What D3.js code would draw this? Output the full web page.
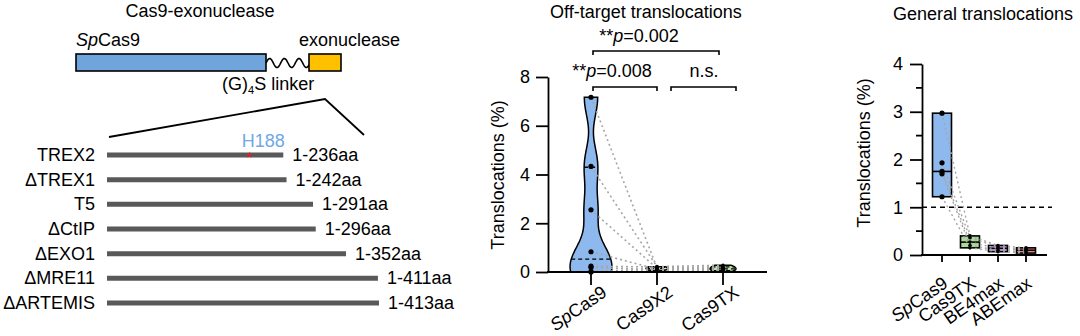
<!DOCTYPE html>
<html>
<head>
<meta charset="utf-8">
<script src="https://cdn.jsdelivr.net/npm/d3@7"></script>
<style>
  body { margin: 0; background: #fff; }
  text { font-family: "Liberation Sans", Arial, sans-serif; fill: #000; }
</style>
</head>
<body>
<svg id="fig" width="1080" height="336"></svg>
<script>
// ---- data ----
// panel a: truncated exonuclease domains
const domainNames = ["TREX2", "\u0394TREX1", "T5", "\u0394CtIP", "\u0394EXO1", "\u0394MRE11", "\u0394ARTEMIS"];
const domainLengths = [236, 242, 291, 296, 352, 411, 413];
const mutationSite = 188; // H188 in TREX2

// panel b: off-target translocations (%), paired samples
const offGroups = ["SpCas9", "Cas9X2", "Cas9TX"];
const offSpCas9 = [7.17, 4.33, 2.55, 0.83, 0.24, 0.18, 0.02, 0.0];
const offCas9X2 = [0.17, 0.22, 0.15, 0.12, 0.20, 0.10, 0.05, 0.14];
const offCas9TX = [0.20, 0.28, 0.10, 0.15, 0.12, 0.05, 0.02, 0.22];
const offQuartiles = [[0.0, 0.53, 4.3], [0.07, 0.14, 0.19], [0.05, 0.13, 0.21]];
const offTicks = [0, 2, 4, 6, 8];

// panel c: general translocations (%)
const genGroups = ["SpCas9", "Cas9TX", "BE4max", "ABEmax"];
const genSpCas9 = [2.97, 1.93, 1.75, 1.70, 1.22];
const genCas9TX = [0.40, 0.36, 0.27, 0.20, 0.15];
const genBE4max = [0.20, 0.17, 0.14, 0.10, 0.07];
const genABEmax = [0.15, 0.12, 0.10, 0.07, 0.04];
const genTicks = [0, 1, 2, 3, 4];
const genMinorTicks = [0.5, 1.5, 2.5, 3.5];
const genThreshold = 1;

const svg = d3.select("#fig");

// italic "Sp" prefix helper
function spLabel(sel, name) {
  if (name.startsWith("Sp")) {
    sel.append("tspan").style("font-style", "italic").text("Sp");
    sel.append("tspan").text(name.slice(2));
  } else {
    sel.text(name);
  }
}

// ================= Panel A: construct diagram =================
const pa = svg.append("g");

pa.append("text").attr("x", 200).attr("y", 17).attr("text-anchor", "middle")
  .attr("font-size", "18px").text("Cas9-exonuclease");

pa.append("text").attr("x", 76).attr("y", 46).attr("font-size", "18px")
  .call(s => spLabel(s, "SpCas9"));
pa.append("text").attr("x", 299).attr("y", 46).attr("font-size", "18px").text("exonuclease");

pa.append("rect").attr("x", 76).attr("y", 54).attr("width", 190).attr("height", 17)
  .attr("fill", "#6fa5dc").attr("stroke", "#000").attr("stroke-width", 1.6);

// wavy linker
const wave = d3.range(0, 44.5, 0.5).map(t => [266 + t, 63 - 4.5 * Math.sin(t / 44 * 3 * 2 * Math.PI)]);
pa.append("path").attr("d", d3.line()(wave)).attr("fill", "none").attr("stroke", "#000").attr("stroke-width", 1.6);

pa.append("rect").attr("x", 309).attr("y", 54).attr("width", 32).attr("height", 17)
  .attr("fill", "#ffc000").attr("stroke", "#000").attr("stroke-width", 1.6);

const linkTxt = pa.append("text").attr("x", 222).attr("y", 90).attr("font-size", "18px");
linkTxt.append("tspan").text("(G)");
linkTxt.append("tspan").attr("font-size", "11px").attr("dy", 4).text("4");
linkTxt.append("tspan").attr("dy", -4).text("S linker");

// zoom lines
pa.append("path").attr("d", "M109,137 L325,99 L364,135")
  .attr("fill", "none").attr("stroke", "#000").attr("stroke-width", 1.8);

const xAa = d3.scaleLinear().domain([-90, 413]).range([107, 379]);
const yRow = d3.scalePoint().domain(domainNames).range([155, 303]);

domainNames.forEach((name, i) => {
  const y = yRow(name);
  pa.append("line").attr("x1", xAa(-90)).attr("x2", xAa(domainLengths[i]))
    .attr("y1", y).attr("y2", y).attr("stroke", "#595959").attr("stroke-width", 5);
  pa.append("text").attr("x", 95).attr("y", y + 6).attr("text-anchor", "end")
    .attr("font-size", "18px").text(name);
  pa.append("text").attr("x", xAa(domainLengths[i]) + 9).attr("y", y + 6)
    .attr("font-size", "18px").text("1-" + domainLengths[i] + "aa");
});

// H188 mark
const hx = xAa(mutationSite) - 8;
pa.append("text").attr("x", hx + 14).attr("y", yRow("TREX2") - 8).attr("text-anchor", "middle")
  .attr("font-size", "18px").style("fill", "#6fa8e8").text("H" + mutationSite);
pa.append("path").attr("d", d3.symbol(d3.symbolStar, 14)())
  .attr("transform", `translate(${hx},${yRow("TREX2")})`).attr("fill", "#e0201b");

// ================= Panel B: off-target violins =================
const pb = svg.append("g");
const yOff = d3.scaleLinear().domain([0, 8]).range([272, 77]);
const xOff = d3.scalePoint().domain(offGroups).range([591, 723]);
const offData = [offSpCas9, offCas9X2, offCas9TX];
const offFill = ["#8db9ef", "#cfe8b4", "#b9e2a6"];
const offBw = [0.7, 0.06, 0.07];
const offHalf = [21, 11, 13];

pb.append("text").attr("x", 646).attr("y", 18).attr("text-anchor", "middle")
  .attr("font-size", "18px").text("Off-target translocations");

// paired dotted lines
const pairLine = (x1, v1, x2, v2) => pb.append("line")
  .attr("x1", x1).attr("y1", yOff(v1)).attr("x2", x2).attr("y2", yOff(v2))
  .attr("stroke", "#a6a6a6").attr("stroke-width", 1.6).attr("stroke-dasharray", "2,3");

// violins
offData.forEach((vals, gi) => {
  const cx = xOff(offGroups[gi]);
  const lo = d3.min(vals), hi = d3.max(vals);
  const ys = d3.range(61).map(k => lo + (hi - lo) * k / 60);
  const dens = v => d3.mean(vals, d => Math.exp(-0.5 * ((v - d) / offBw[gi]) ** 2));
  const pts = ys.map(y => ({ y: y, d: dens(y) }));
  const maxD = d3.max(pts, p => p.d);
  const w = d => Math.pow(d / maxD, 0.75) * offHalf[gi];
  pb.append("path")
    .attr("d", d3.area().curve(d3.curveBasis)
      .x0(p => cx - w(p.d)).x1(p => cx + w(p.d)).y(p => yOff(p.y))(pts))
    .attr("fill", offFill[gi]).attr("stroke", "#000").attr("stroke-width", 1.5);
  offQuartiles[gi].forEach(q => {
    const qw = w(dens(q));
    pb.append("line").attr("x1", cx - qw).attr("x2", cx + qw)
      .attr("y1", yOff(q)).attr("y2", yOff(q))
      .attr("stroke", "#000").attr("stroke-width", 1.4).attr("stroke-dasharray", "4,3");
  });
});

offSpCas9.forEach((v, i) => {
  pairLine(xOff("SpCas9"), v, xOff("Cas9X2"), offCas9X2[i]);
  pairLine(xOff("Cas9X2"), offCas9X2[i], xOff("Cas9TX"), offCas9TX[i]);
});

offData.forEach((vals, gi) => {
  pb.selectAll(null).data(vals).enter().append("circle")
    .attr("cx", xOff(offGroups[gi])).attr("cy", d => yOff(d))
    .attr("r", gi === 0 ? 2.6 : 1.8).attr("fill", "#000");
});

// axes
const yAxisB = pb.append("g").attr("transform", "translate(548,0)")
  .call(d3.axisLeft(yOff).tickValues(offTicks).tickFormat(d3.format("d"))
    .tickSize(12).tickSizeOuter(0).tickPadding(6));
yAxisB.selectAll("text").attr("font-size", "18px").style("font-family", "Liberation Sans, Arial, sans-serif");
yAxisB.selectAll("line,path").attr("stroke", "#000").attr("stroke-width", 1.8);

pb.append("line").attr("x1", 547).attr("x2", 767).attr("y1", 272).attr("y2", 272)
  .attr("stroke", "#000").attr("stroke-width", 1.8);
offGroups.forEach(g => {
  pb.append("line").attr("x1", xOff(g)).attr("x2", xOff(g)).attr("y1", 272).attr("y2", 285)
    .attr("stroke", "#000").attr("stroke-width", 1.8);
  pb.append("text").attr("text-anchor", "end").attr("font-size", "18px")
    .attr("transform", `translate(${xOff(g) + 17},295) rotate(-35)`)
    .call(s => spLabel(s, g));
});

pb.append("text").attr("transform", "translate(504,175) rotate(-90)")
  .attr("text-anchor", "middle").attr("font-size", "18px").text("Translocations (%)");

// significance brackets
const bracket = (x1, x2, y) => pb.append("path")
  .attr("d", `M${x1},${y + 4} V${y} H${x2} V${y + 4}`)
  .attr("fill", "none").attr("stroke", "#000").attr("stroke-width", 1.6);
const pText = (x, y, label) => {
  const t = pb.append("text").attr("x", x).attr("y", y).attr("text-anchor", "middle").attr("font-size", "18px");
  if (label.startsWith("**")) {
    t.append("tspan").text("**");
    t.append("tspan").style("font-style", "italic").text("p");
    t.append("tspan").text(label.slice(3));
  } else {
    t.text(label);
  }
};
bracket(xOff("SpCas9") + 2, xOff("Cas9TX") - 4, 51);
pText(639, 42, "**p=0.002");
bracket(xOff("SpCas9") + 2, xOff("Cas9X2"), 87);
pText(612, 77, "**p=0.008");
bracket(xOff("Cas9X2") + 14, xOff("Cas9TX") + 13, 87);
pText(704, 77, "n.s.");

// ================= Panel C: general translocations =================
const pc = svg.append("g");
const yGen = d3.scaleLinear().domain([0, 4]).range([255, 64]);
const xGen = d3.scalePoint().domain(genGroups).range([942, 1026]);
const genData = [genSpCas9, genCas9TX, genBE4max, genABEmax];
const genFill = ["#8db9ef", "#a9da98", "#c89ae6", "#ee8a86"];

pc.append("text").attr("x", 983).attr("y", 20).attr("text-anchor", "middle")
  .attr("font-size", "18px").text("General translocations");

// floating bars (min to max) with median
genData.forEach((vals, gi) => {
  const cx = xGen(genGroups[gi]);
  const lo = d3.min(vals), hi = d3.max(vals), med = d3.median(vals);
  pc.append("rect").attr("x", cx - 9.5).attr("width", 19)
    .attr("y", yGen(hi)).attr("height", yGen(lo) - yGen(hi))
    .attr("fill", genFill[gi]).attr("stroke", "#000").attr("stroke-width", 1.6);
  pc.append("line").attr("x1", cx - 9.5).attr("x2", cx + 9.5)
    .attr("y1", yGen(med)).attr("y2", yGen(med)).attr("stroke", "#000").attr("stroke-width", 1.6);
});

// threshold
pc.append("line").attr("x1", 922).attr("x2", 1052).attr("y1", yGen(genThreshold)).attr("y2", yGen(genThreshold))
  .attr("stroke", "#000").attr("stroke-width", 1.6).attr("stroke-dasharray", "5,4");

// paired dotted lines
genSpCas9.forEach((v, i) => {
  for (let g = 0; g < genData.length - 1; g++) {
    pc.append("line")
      .attr("x1", xGen(genGroups[g])).attr("y1", yGen(genData[g][i]))
      .attr("x2", xGen(genGroups[g + 1])).attr("y2", yGen(genData[g + 1][i]))
      .attr("stroke", "#a6a6a6").attr("stroke-width", 1.4).attr("stroke-dasharray", "2,3");
  }
});

genData.forEach((vals, gi) => {
  pc.selectAll(null).data(vals).enter().append("circle")
    .attr("cx", xGen(genGroups[gi])).attr("cy", d => yGen(d))
    .attr("r", gi === 0 ? 2.6 : 1.8).attr("fill", "#000");
});

const yAxisC = pc.append("g").attr("transform", "translate(922,0)")
  .call(d3.axisLeft(yGen).tickValues(genTicks).tickFormat(d3.format("d"))
    .tickSize(12).tickSizeOuter(0).tickPadding(7));
yAxisC.selectAll("text").attr("font-size", "18px").style("font-family", "Liberation Sans, Arial, sans-serif");
yAxisC.selectAll("line,path").attr("stroke", "#000").attr("stroke-width", 1.8);
genMinorTicks.forEach(t => {
  pc.append("line").attr("x1", 916).attr("x2", 922).attr("y1", yGen(t)).attr("y2", yGen(t))
    .attr("stroke", "#000").attr("stroke-width", 1.8);
});

pc.append("line").attr("x1", 921).attr("x2", 1047).attr("y1", 255).attr("y2", 255)
  .attr("stroke", "#000").attr("stroke-width", 1.8);
genGroups.forEach(g => {
  pc.append("line").attr("x1", xGen(g)).attr("x2", xGen(g)).attr("y1", 255).attr("y2", 262)
    .attr("stroke", "#000").attr("stroke-width", 1.8);
  pc.append("text").attr("text-anchor", "end").attr("font-size", "18px")
    .attr("transform", `translate(${xGen(g) + 7},286) rotate(-35)`)
    .call(s => spLabel(s, g));
});

pc.append("text").attr("transform", "translate(870,153) rotate(-90)")
  .attr("text-anchor", "middle").attr("font-size", "18px").text("Translocations (%)");
</script>
</body>
</html>
